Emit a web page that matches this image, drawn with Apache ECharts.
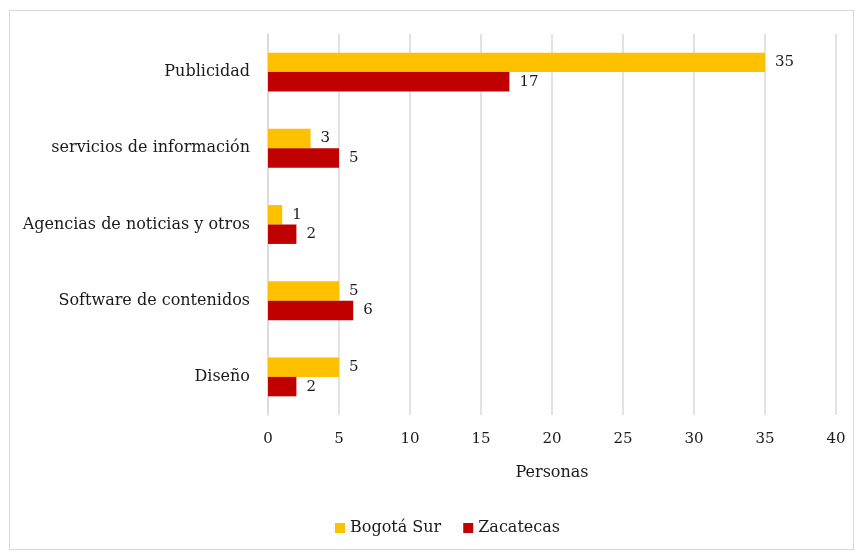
<!DOCTYPE html>
<html><head><meta charset="utf-8">
<script src="https://cdn.jsdelivr.net/npm/echarts@6/dist/echarts.min.js"></script>
<style>html,body{margin:0;padding:0;background:#fff}
#frame{position:absolute;left:9px;top:10px;width:845px;height:540px;border:1px solid #d9d9d9;box-sizing:border-box}
#c{position:absolute;left:0;top:0;width:857px;height:552px}</style>
</head><body><div id="frame"></div><div id="c"></div>
<script>
const categories = ["Publicidad","servicios de información","Agencias de noticias y otros","Software de contenidos","Diseño"];
const bogotaSur = [35,3,1,5,5];
const zacatecas = [17,5,2,6,2];
const xTicks = {min:0,max:40,interval:5};
const FONT = "DejaVu Serif";
const TXT = '#1a1a1a';
const chart = echarts.init(document.getElementById('c'));
const lbl = {show:true,position:'right',distance:10,color:TXT,fontFamily:FONT,fontSize:15};
chart.setOption({
  animation:false,
  grid:{left:268,right:21,top:34,bottom:137,containLabel:false},
  xAxis:{type:'value',min:xTicks.min,max:xTicks.max,interval:xTicks.interval,
    name:'Personas',nameLocation:'middle',nameGap:50,
    nameTextStyle:{fontFamily:FONT,fontSize:16,color:TXT},
    axisLine:{show:false},axisTick:{show:false},
    axisLabel:{fontFamily:FONT,fontSize:15,color:TXT,margin:17},
    splitLine:{lineStyle:{color:'#d9d9d9',width:1.5}}},
  yAxis:{type:'category',data:categories,inverse:true,
    axisLine:{lineStyle:{color:'#d9d9d9',width:1.5}},axisTick:{show:false},
    axisLabel:{fontFamily:FONT,fontSize:16,color:TXT,margin:18}},
  legend:{bottom:11,left:330,itemWidth:10,itemHeight:10,itemGap:22,icon:'rect',
    textStyle:{fontFamily:FONT,fontSize:16,color:TXT},
    data:['Bogotá Sur','Zacatecas']},
  series:[
    {name:'Bogotá Sur',type:'bar',data:bogotaSur,itemStyle:{color:'#FFC000'},barGap:'0%',barCategoryGap:'49%',label:lbl},
    {name:'Zacatecas',type:'bar',data:zacatecas,itemStyle:{color:'#C00000'},barGap:'0%',barCategoryGap:'49%',label:lbl}
  ]
});
</script></body></html>
